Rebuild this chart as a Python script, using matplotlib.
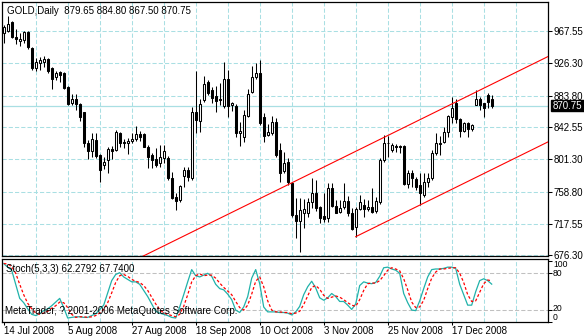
import numpy as np
import matplotlib
matplotlib.use("Agg")
import matplotlib.pyplot as plt
import matplotlib.transforms as mtrans
from matplotlib.patches import Rectangle

W, H = 584, 336

# daily GOLD bars, 14 Jul 2008 onwards
opens = [965.0, 968.4, 979.7, 959.8, 954.6, 956.3, 967.0, 945.5, 919.5, 926.8,
         927.6, 931.2, 919.5, 907.8, 915.0, 913.8, 895.5, 874.0, 880.0, 873.0,
         862.6, 822.8, 812.3, 826.3, 806.7, 793.8, 800.3, 814.5, 813.3, 835.0,
         824.0, 822.0, 824.5, 827.2, 834.0, 834.0, 817.5, 806.7, 801.2, 796.0,
         802.5, 802.5, 776.5, 751.8, 748.3, 779.5, 787.2, 776.8, 863.0, 851.3,
         878.3, 902.0, 891.3, 883.5, 879.2, 870.4, 905.2, 871.4, 870.4, 835.8,
         830.5, 857.5, 889.0, 907.8, 913.8, 856.5, 833.1, 835.0, 850.0, 813.2,
         786.3, 798.0, 770.8, 728.8, 721.3, 731.0, 731.0, 746.0, 757.7, 739.5,
         727.4, 724.4, 763.5, 740.4, 733.0, 738.8, 747.3, 731.8, 712.7, 736.2,
         741.7, 736.2, 739.5, 734.3, 746.0, 800.3, 822.0, 812.9, 818.8, 818.5,
         818.5, 769.0, 783.8, 775.2, 767.7, 754.7, 772.0, 776.5, 809.7, 821.4,
         824.0, 837.0, 856.5, 874.0, 853.2, 838.3, 848.0, 840.2, 872.1, 879.2,
         874.0, 884.3, 879.65]
highs = [975.8, 987.5, 981.3, 970.2, 964.9, 968.4, 968.0, 947.5, 932.5, 934.5,
         935.5, 932.5, 921.5, 916.3, 916.3, 915.0, 896.5, 885.7, 885.7, 874.0,
         863.0, 826.3, 835.8, 835.8, 808.0, 804.5, 817.5, 818.5, 839.3, 837.0,
         827.2, 828.5, 835.0, 844.5, 838.3, 835.0, 819.7, 809.7, 815.5, 819.7,
         819.7, 805.4, 785.0, 756.9, 767.7, 790.8, 790.8, 869.2, 916.3, 879.2,
         909.5, 904.3, 895.5, 896.5, 899.9, 927.6, 917.3, 876.0, 873.0, 850.0,
         865.3, 892.2, 922.4, 926.7, 930.3, 861.0, 847.0, 857.5, 854.4, 822.0,
         810.0, 802.5, 772.0, 750.5, 750.5, 749.2, 750.5, 776.5, 774.3, 740.4,
         756.9, 770.0, 770.8, 748.3, 748.3, 770.0, 753.5, 737.5, 739.5, 754.8,
         749.2, 748.3, 763.5, 752.5, 802.5, 832.7, 832.0, 822.0, 820.7, 820.0,
         819.7, 787.2, 787.2, 778.5, 782.9, 783.8, 782.9, 813.3, 835.0, 831.4,
         843.5, 858.7, 882.5, 879.2, 854.4, 850.0, 850.0, 847.0, 891.3, 882.5,
         874.7, 887.7, 884.80]
lows = [952.8, 967.0, 958.5, 951.0, 948.8, 952.8, 944.2, 917.3, 916.3, 917.3,
        921.5, 913.0, 892.2, 904.3, 902.0, 892.2, 872.1, 871.7, 865.3, 851.3,
        817.5, 802.0, 804.5, 802.8, 772.0, 788.9, 783.0, 801.2, 811.5, 816.8,
        816.2, 807.7, 822.0, 825.3, 825.3, 816.8, 790.2, 789.5, 790.7, 790.7,
        796.0, 774.3, 750.0, 735.3, 746.0, 764.8, 773.3, 774.3, 835.4, 837.0,
        876.0, 884.7, 874.7, 863.0, 871.7, 867.5, 856.5, 864.3, 830.5, 818.5,
        824.0, 855.8, 887.7, 905.2, 845.7, 824.0, 831.4, 832.7, 804.5, 772.0,
        783.0, 767.7, 726.2, 698.4, 681.0, 711.8, 726.5, 737.5, 734.4, 718.7,
        720.0, 720.0, 739.5, 731.0, 731.0, 736.1, 727.4, 709.2, 700.5, 735.3,
        726.5, 734.4, 731.0, 731.0, 743.0, 798.0, 804.5, 810.6, 810.6, 809.0,
        767.7, 763.5, 764.8, 761.3, 741.7, 752.5, 764.8, 774.3, 806.7, 806.7,
        822.0, 830.5, 848.0, 848.7, 829.7, 837.0, 829.7, 838.3, 871.7, 865.3,
        856.5, 867.5, 867.50]
closes = [972.8, 977.0, 959.8, 957.2, 957.2, 967.0, 947.5, 919.5, 928.0, 930.3,
          931.2, 916.3, 905.2, 913.8, 910.8, 893.5, 873.0, 880.0, 873.0, 856.5,
          822.8, 812.3, 827.2, 805.4, 787.2, 798.0, 814.2, 812.3, 836.7, 822.8,
          822.8, 825.0, 827.9, 834.0, 830.5, 817.5, 804.5, 800.3, 793.8, 803.8,
          811.6, 776.5, 750.5, 747.3, 766.4, 787.2, 778.5, 862.6, 852.3, 873.0,
          899.0, 887.7, 880.5, 877.4, 877.9, 905.2, 870.4, 874.0, 835.8, 838.3,
          858.7, 886.0, 907.8, 913.8, 848.7, 831.4, 836.7, 850.0, 806.7, 783.4,
          796.0, 771.6, 728.8, 721.3, 735.3, 736.2, 746.0, 757.7, 737.5, 724.4,
          723.1, 763.5, 740.4, 731.8, 737.5, 747.3, 731.0, 710.2, 736.2, 746.0,
          736.2, 739.5, 733.0, 747.3, 800.3, 822.0, 822.5, 819.4, 817.1, 816.8,
          769.0, 783.0, 776.5, 765.5, 757.7, 772.0, 776.5, 809.7, 822.0, 822.0,
          837.0, 857.5, 867.5, 853.2, 838.3, 848.0, 840.2, 845.7, 880.0, 872.1,
          867.5, 876.0, 870.75]

# Stochastic(5,3,3): main and signal
stoch_k = [95.7, 90, 85, 62, 39, 32, 22, 13, 11, 14, 19, 22, 27, 33, 39, 24, 7, 8,
           9, 9, 8, 8, 11, 14, 21, 28, 48, 68, 78, 81, 74, 70, 66, 66, 62, 52, 42,
           30, 18, 15, 13, 11, 8, 7, 25, 45, 66, 86, 76, 74, 77, 80, 75, 62, 55, 53,
           46, 37, 20, 16, 25, 42, 72, 86, 63, 25, 17, 17, 17, 16, 16, 15, 12, 17,
           26, 45, 58, 67, 56, 40, 36, 40, 47, 42, 34, 34, 28, 21, 30, 60, 66, 64,
           63, 65, 75, 89, 90, 87, 85, 80, 47, 32, 20, 19, 35, 55, 74, 86, 87, 87,
           88, 90, 90, 88, 62, 45, 28, 28, 50, 68, 71, 68, 62.2792]
stoch_d = [96, 95, 91, 80, 62, 45, 31, 22, 15, 13, 15, 18, 23, 27, 33, 32, 24, 13,
           8, 9, 9, 8, 9, 11, 15, 21, 32, 48, 65, 76, 78, 75, 70, 67, 65, 60, 52,
           41, 30, 21, 15, 13, 11, 9, 13, 26, 45, 66, 76, 79, 76, 77, 77, 72, 64,
           57, 51, 45, 34, 24, 20, 28, 46, 67, 74, 58, 35, 20, 17, 17, 16, 16, 14,
           15, 18, 29, 43, 57, 60, 54, 44, 39, 41, 43, 41, 37, 32, 28, 26, 37, 52,
           63, 64, 64, 68, 76, 85, 89, 87, 84, 71, 53, 33, 24, 25, 36, 55, 72, 82,
           87, 87, 88, 89, 89, 80, 65, 45, 34, 35, 49, 63, 69, 67.7400]

# channel: upper line through two highs, lower parallel from a low
upper_bars = [96, 118]
upper_prices = [832.0, 888.4]
lower_bar = 88
lower_price = 700.5

price_ticks = [967.55, 926.30, 883.80, 842.55, 801.30, 758.80, 717.55, 676.30]
stoch_levels = [100, 80, 20, 0]
date_bars = [0, 16, 32, 48, 64, 80, 96, 112]
date_labels = ["14 Jul 2008", "5 Aug 2008", "27 Aug 2008", "18 Sep 2008",
               "10 Oct 2008", "3 Nov 2008", "25 Nov 2008", "17 Dec 2008"]

plt.rcParams["font.family"] = ["Liberation Sans", "DejaVu Sans"]
plt.rcParams["font.size"] = 7
plt.rcParams["lines.scale_dashes"] = False

GRID = "#a9dfe3"
DASH = (0, (3, 1.5))


def box(x0, y0, x1, y1):
    return [x0 / W, 1 - y1 / H, (x1 - x0) / W, (y1 - y0) / H]


fig = plt.figure(figsize=(W / 100, H / 100), dpi=100)
ax = fig.add_axes(box(2.3, 2, 547.7, 256.3))
sub = fig.add_axes(box(2.3, 259.3, 547.7, 322.3))

x = np.arange(len(closes))
o, h, l, c = (np.array(v) for v in (opens, highs, lows, closes))

# ---- price panel
for t in price_ticks:
    ax.axhline(t, color=GRID, lw=0.75, ls=DASH, zorder=1)
for b in range(8, 136, 8):
    ax.axvline(b, color=GRID, lw=0.75, ls=DASH, zorder=1)
    sub.axvline(b, color=GRID, lw=0.75, ls=DASH, zorder=1)
ax.axhline(c[-1], color=GRID, lw=0.9, zorder=1)

ax.vlines(x, l, h, color="black", lw=0.75, zorder=2)
up = c >= o
ax.bar(x, np.maximum(np.abs(c - o), 0.4), bottom=np.minimum(o, c), width=0.5,
       color=np.where(up, "white", "black"), edgecolor="black", lw=0.75, zorder=3)

slope = (upper_prices[1] - upper_prices[0]) / (upper_bars[1] - upper_bars[0])
ax.axline((upper_bars[0], upper_prices[0]), slope=slope, color="red", lw=0.8, zorder=4)
xr = np.array([lower_bar, 140])
ax.plot(xr, lower_price + slope * (xr - lower_bar), color="red", lw=0.8, zorder=4)

ax.set_xlim(-0.35, 136)
ax.set_ylim(675.0, 1005.65)
ax.set_xticks([])
ax.yaxis.tick_right()
ax.set_yticks(price_ticks, labels=[f"{t:.2f}" for t in price_ticks])
ax.tick_params(axis="y", length=3, width=0.75, pad=1.5, labelsize=7)
for s in ax.spines.values():
    s.set_linewidth(0.9)

# last price marker on the scale
trans = mtrans.blended_transform_factory(fig.transFigure, ax.transData)
px = (1005.65 - 675.0) / 254.3
ax.add_patch(Rectangle((550.7 / W, c[-1] - 5.5 * px), 33.3 / W, 11 * px,
                       transform=trans, color="black", clip_on=False, zorder=5))
ax.text(553.0 / W, c[-1], f"{c[-1]:.2f}", transform=trans, color="white",
        va="center", ha="left", fontsize=7, clip_on=False, zorder=6)

fig.text(6.7 / W, 1 - 10.7 / H,
         f"GOLD,Daily  {o[-1]:.2f} {h[-1]:.2f} {l[-1]:.2f} {c[-1]:.2f}",
         va="center", ha="left")

# ---- stochastic panel
sub.axhline(80, color="#c0c0c0", lw=0.75, ls=DASH, zorder=1)
sub.axhline(20, color="#c0c0c0", lw=0.75, ls=DASH, zorder=1)
sub.plot(x, stoch_k, color="#20b2aa", lw=0.9, zorder=3)
sub.plot(x, stoch_d, color="red", lw=0.9, ls=(0, (2, 1.5)), zorder=3)
sub.set_xlim(-0.35, 136)
sub.set_ylim(0.5, 102.8)
sub.yaxis.tick_right()
sub.set_yticks(stoch_levels, labels=[])
sub.tick_params(axis="y", length=3, width=0.75)
# scale labels sit a little inside the 0 and 100 edges
label_y = {100: 264.5, 80: 273.0, 20: 308.6, 0: 317.8}
for v in stoch_levels:
    fig.text(553.0 / W, 1 - label_y[v] / H, str(v), va="center", ha="left",
             fontsize=6.2)
sub.set_xticks(date_bars, labels=date_labels)
sub.tick_params(axis="x", length=2.5, width=0.75, pad=0.2, labelsize=7)
plt.setp(sub.get_xticklabels(), ha="left")
for s in sub.spines.values():
    s.set_linewidth(0.9)

fig.text(6 / W, 1 - 269.5 / H,
         f"Stoch(5,3,3) {stoch_k[-1]:.4f} {stoch_d[-1]:.4f}", va="center", ha="left")
fig.text(5.3 / W, 1 - 311 / H,
         "MetaTrader, ? 2001-2006 MetaQuotes Software Corp.", va="center", ha="left")

fig.savefig("out.png", dpi=100)
